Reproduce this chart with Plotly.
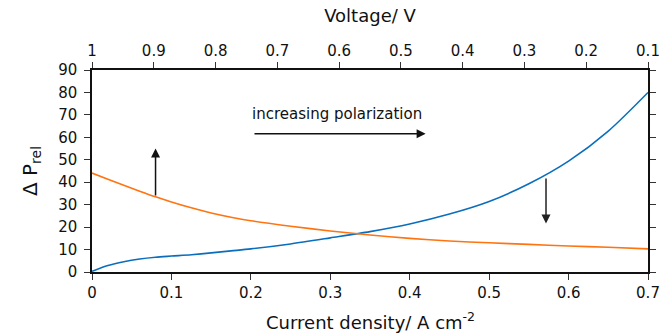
import plotly.graph_objects as go

# Data
current_density = [0, 0.02, 0.04, 0.06, 0.08, 0.10, 0.125, 0.15, 0.175, 0.2,
                   0.25, 0.3, 0.35, 0.4, 0.45, 0.5, 0.55, 0.6, 0.65, 0.7]
blue_vals = [0.3, 2.9, 4.6, 5.8, 6.6, 7.1, 7.7, 8.5, 9.4, 10.3,
             12.5, 15.2, 18.0, 21.4, 25.8, 31.4, 39.3, 49.4, 62.8, 80.0]
orange_vals = [44.1, 41.3, 38.6, 36.0, 33.5, 31.2, 28.6, 26.3, 24.4, 22.8,
               20.4, 18.3, 16.5, 15.0, 13.8, 13.0, 12.3, 11.6, 11.0, 10.3]

voltage_ticks = [1, 0.9, 0.8, 0.7, 0.6, 0.5, 0.4, 0.3, 0.2, 0.1]
voltage_labels = ["1", "0.9", "0.8", "0.7", "0.6", "0.5", "0.4", "0.3", "0.2", "0.1"]
cd_ticks = [0, 0.1, 0.2, 0.3, 0.4, 0.5, 0.6, 0.7]
cd_labels = ["0", "0.1", "0.2", "0.3", "0.4", "0.5", "0.6", "0.7"]
y_ticks = [0, 10, 20, 30, 40, 50, 60, 70, 80, 90]

# Arrow annotations (tail -> head) in data units
up_arrow = dict(x=0.080, y_from=33.4, y_to=55.0)
down_arrow = dict(x=0.5716, y_from=42.3, y_to=21.6)
horiz_arrow = dict(x_from=0.2027, x_to=0.42, y=61.6)
label_text = "increasing polarization"
label_pos = (0.308, 70.2)

FONT = "DejaVu Sans"
BLUE = "#0a6ebd"
ORANGE = "#ff7410"

fig = go.Figure()
fig.add_trace(go.Scatter(x=current_density, y=blue_vals, mode="lines",
                         line=dict(color=BLUE, width=1.6, shape="spline", smoothing=0.8),
                         showlegend=False))
fig.add_trace(go.Scatter(x=current_density, y=orange_vals, mode="lines",
                         line=dict(color=ORANGE, width=1.6, shape="spline", smoothing=0.8),
                         showlegend=False))
# invisible trace for top voltage axis
fig.add_trace(go.Scatter(x=[voltage_ticks[0], voltage_ticks[-1]], y=[None, None],
                         xaxis="x2", mode="lines", showlegend=False,
                         hoverinfo="skip"))

ann = []
ann.append(dict(x=up_arrow["x"], y=up_arrow["y_to"], ax=up_arrow["x"], ay=up_arrow["y_from"],
                xref="x", yref="y", axref="x", ayref="y", showarrow=True,
                arrowhead=2, arrowsize=1.2, arrowwidth=1.5, arrowcolor="#111", text=""))
ann.append(dict(x=down_arrow["x"], y=down_arrow["y_to"], ax=down_arrow["x"], ay=down_arrow["y_from"],
                xref="x", yref="y", axref="x", ayref="y", showarrow=True,
                arrowhead=2, arrowsize=1.2, arrowwidth=1.5, arrowcolor="#222", text=""))
ann.append(dict(x=horiz_arrow["x_to"], y=horiz_arrow["y"], ax=horiz_arrow["x_from"], ay=horiz_arrow["y"],
                xref="x", yref="y", axref="x", ayref="y", showarrow=True,
                arrowhead=2, arrowsize=1.2, arrowwidth=1.5, arrowcolor="#111", text=""))
ann.append(dict(x=label_pos[0], y=label_pos[1], xref="x", yref="y", text=label_text,
                showarrow=False, font=dict(family=FONT, size=15, color="#111"),
                xanchor="center", yanchor="middle"))
# bottom axis title
ann.append(dict(x=0.5, y=-0.243, xref="paper", yref="paper",
                text="Current density/ A cm<sup>-2</sup>", showarrow=False,
                font=dict(family=FONT, size=18, color="#111"),
                xanchor="center", yanchor="middle"))

axis_common = dict(showline=True, linecolor="#111", linewidth=1.5, ticks="outside",
                   ticklen=6, tickwidth=1, tickcolor="#333", showgrid=False, zeroline=False,
                   automargin=False,
                   tickfont=dict(family=FONT, size=15, color="#111"))

fig.update_layout(
    width=664, height=335,
    margin=dict(l=92, r=16, t=70, b=63),
    paper_bgcolor="white", plot_bgcolor="white",
    font=dict(family=FONT, color="#111"),
    annotations=ann,
    xaxis=dict(range=[0, 0.7], tickvals=cd_ticks, ticktext=cd_labels,
               mirror=False, **axis_common),
    xaxis2=dict(range=[1, 0.1], tickvals=voltage_ticks, ticktext=voltage_labels,
                overlaying="x", side="top", anchor="y",
                title=dict(text="Voltage/ V", font=dict(family=FONT, size=18, color="#111")),
                **axis_common),
    yaxis=dict(range=[0, 90], tickvals=y_ticks, ticklabelstandoff=4,
               title=dict(text="Δ P<sub>rel</sub>", font=dict(family=FONT, size=20, color="#111")),
               mirror="ticks", **axis_common),
)

fig.write_html("out.html")
